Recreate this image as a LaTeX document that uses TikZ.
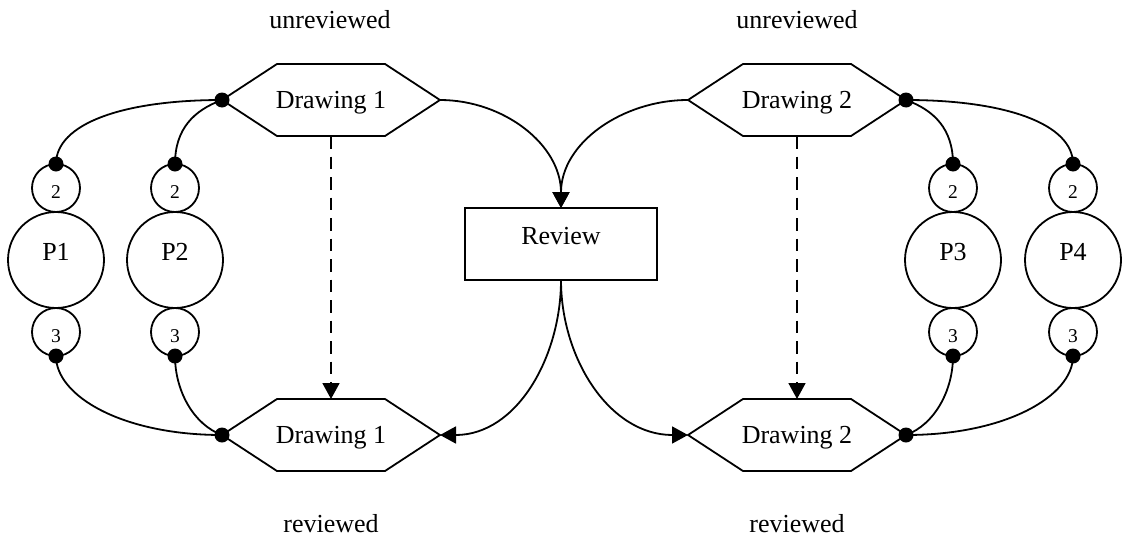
\documentclass[tikz,border=0pt]{standalone}
\usepackage{fontspec}
\setmainfont{Liberation Serif}
\usetikzlibrary{arrows.meta}
\begin{document}
\begin{tikzpicture}[x=1pt,y=1pt,line width=1.8pt,
  every node/.style={inner sep=0pt,outer sep=0pt},
  bigfont/.style={font=\fontsize{26}{30}\selectfont},
  smallfont/.style={font=\fontsize{19.5}{22}\selectfont},
  hexbox/.style={bigfont,minimum width=218pt,minimum height=72pt,text depth=0pt},
  reviewbox/.style={bigfont,draw,minimum width=192pt,minimum height=72pt,text height=18pt,text depth=18pt},
  portcircle/.style={smallfont,draw,circle,minimum size=48pt,text height=21pt,text depth=0pt},
  personcircle/.style={bigfont,draw,circle,minimum size=96pt,text height=18pt,text depth=18pt},
  caption/.style={bigfont,anchor=base},
  link/.style={line width=1.8pt},
  flow/.style={line width=1.8pt,-{Triangle[length=16pt,width=17pt]}},
  dashflow/.style={flow,dash pattern=on 12.5pt off 8pt},
  joint/.style={fill=black}
]
\useasboundingbox (0,0) rectangle (1123,-541);

% captions
\node[caption] (cap1t) at (330,-28) {unreviewed};
\node[caption] (cap2t) at (797,-28) {unreviewed};
\node[caption] (cap1b) at (331,-532) {reviewed};
\node[caption] (cap2b) at (797,-532) {reviewed};

% drawings (hexagons)
\node[hexbox] (d1t) at (331,-100) {Drawing 1};
\node[hexbox] (d1b) at (331,-435) {Drawing 1};
\node[hexbox] (d2t) at (797,-100) {Drawing 2};
\node[hexbox] (d2b) at (797,-435) {Drawing 2};
\foreach \n in {d1t,d1b,d2t,d2b}
  \draw[link] (\n.west) -- ([xshift=55pt]\n.north west) -- ([xshift=-55pt]\n.north east)
    -- (\n.east) -- ([xshift=-55pt]\n.south east) -- ([xshift=55pt]\n.south west) -- cycle;

% review step
\node[reviewbox] (rev) at (561,-244) {Review};

% people with their ports
\foreach \i/\x in {1/56,2/175,3/953,4/1073}{
  \node[portcircle] (s\i t) at (\x,-188) {2};
  \node[personcircle] (p\i) at (\x,-260) {P\i};
  \node[portcircle] (s\i b) at (\x,-332) {3};
}

% port connections
\draw[link] (d1t.west) .. controls +(-100,0) and +(0,40) .. (s1t.north);
\draw[link] (d1t.west) .. controls +(200:30) and +(0,35) .. (s2t.north);
\draw[link] (s1b.south) .. controls +(0,-40) and +(-100,0) .. (d1b.west);
\draw[link] (s2b.south) .. controls +(0,-35) and +(160:30) .. (d1b.west);
\draw[link] (d2t.east) .. controls +(100,0) and +(0,40) .. (s4t.north);
\draw[link] (d2t.east) .. controls +(-20:30) and +(0,35) .. (s3t.north);
\draw[link] (s4b.south) .. controls +(0,-40) and +(100,0) .. (d2b.east);
\draw[link] (s3b.south) .. controls +(0,-35) and +(20:30) .. (d2b.east);

\foreach \c in {d1t.west,d1b.west,d2t.east,d2b.east,
                s1t.north,s2t.north,s3t.north,s4t.north,
                s1b.south,s2b.south,s3b.south,s4b.south}
  \fill[joint] (\c) circle (7.5pt);

% review flow
\draw[flow] (d1t.east) to[out=0,in=90] (rev.north);
\draw[flow] (d2t.west) to[out=180,in=90] (rev.north);
\draw[flow] (rev.south) to[out=-90,in=0] (d1b.east);
\draw[flow] (rev.south) to[out=-90,in=180] (d2b.west);

% direct transitions
\draw[dashflow] (d1t.south) -- (d1b.north);
\draw[dashflow] (d2t.south) -- (d2b.north);
\end{tikzpicture}
\end{document}
